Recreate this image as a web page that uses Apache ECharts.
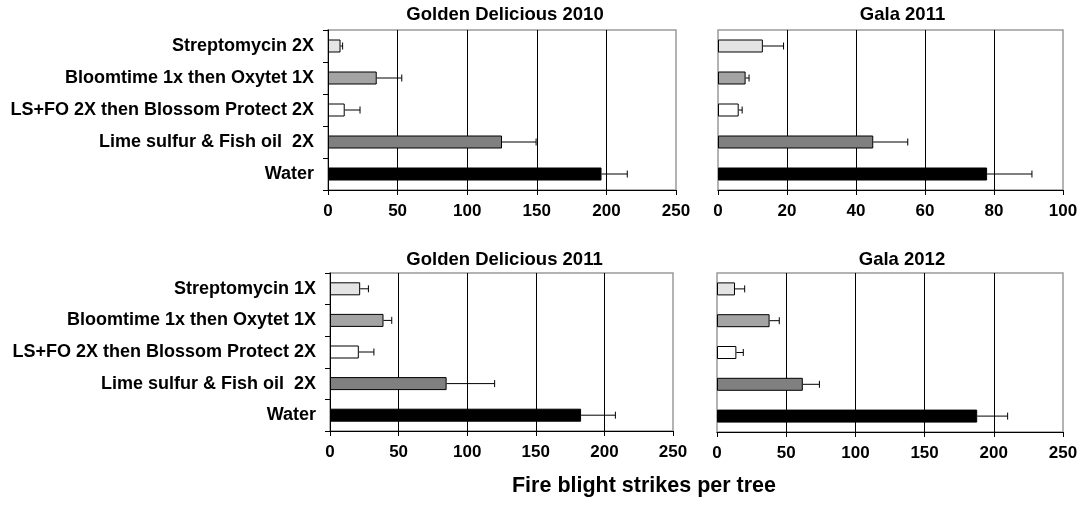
<!DOCTYPE html>
<html>
<head>
<meta charset="utf-8">
<script src="https://cdn.jsdelivr.net/npm/echarts@6/dist/echarts.min.js"></script>
<style>
  html, body { margin: 0; padding: 0; background: #fff; }
  #chart { width: 1081px; height: 529px; }
</style>
</head>
<body>
<div id="chart"></div>
<script>
// Treatments, top to bottom
const treatmentsTop = ['Streptomycin 2X', 'Bloomtime 1x then Oxytet 1X', 'LS+FO 2X then Blossom Protect 2X', 'Lime sulfur & Fish oil  2X', 'Water'];
const treatmentsBottom = ['Streptomycin 1X', 'Bloomtime 1x then Oxytet 1X', 'LS+FO 2X then Blossom Protect 2X', 'Lime sulfur & Fish oil  2X', 'Water'];

const panelTitles = ['Golden Delicious 2010', 'Gala 2011', 'Golden Delicious 2011', 'Gala 2012'];

// Mean strikes per tree and standard error per treatment
const goldenDelicious2010 = [9, 35, 12, 125, 196.5];
const goldenDelicious2010Err = [1.5, 18, 11, 24.5, 18.5];
const gala2011 = [13, 8, 6, 45, 78];
const gala2011Err = [6, 1, 1, 10, 13];
const goldenDelicious2011 = [22, 39, 21, 85, 183];
const goldenDelicious2011Err = [6, 6, 11, 35, 25];
const gala2012 = [13, 38, 14, 62, 188];
const gala2012Err = [7, 7, 5, 12, 22];

// x-axis scales
const axisMax = [250, 100, 250, 250];
const axisStep = [50, 20, 50, 50];

const xAxisTitle = 'Fire blight strikes per tree';

const barFills = ['#e4e4e4', '#a4a4a4', '#ffffff', '#808080', '#000000'];

const panels = [
  { cats: treatmentsTop, vals: goldenDelicious2010, errs: goldenDelicious2010Err, grid: { left: 328, top: 30, width: 348, height: 160 }, labels: true, titleTop: 0, titleShift: -2 },
  { cats: treatmentsTop, vals: gala2011, errs: gala2011Err, grid: { left: 718, top: 30, width: 345, height: 160 }, labels: false, titleTop: 0, titleShift: 7 },
  { cats: treatmentsBottom, vals: goldenDelicious2011, errs: goldenDelicious2011Err, grid: { left: 330, top: 273, width: 343, height: 158 }, labels: true, titleTop: 245, titleShift: -2 },
  { cats: treatmentsBottom, vals: gala2012, errs: gala2012Err, grid: { left: 717, top: 273, width: 346, height: 159 }, labels: false, titleTop: 245, titleShift: 7 }
];

const font = 'Liberation Sans, Arial, sans-serif';

const grids = [], xAxes = [], yAxes = [], series = [], titles = [];

panels.forEach((p, i) => {
  grids.push(Object.assign({ show: true, borderColor: '#9a9a9a', borderWidth: 1.5, backgroundColor: '#fff' }, p.grid));
  xAxes.push({
    type: 'value', gridIndex: i, min: 0, max: axisMax[i], interval: axisStep[i],
    axisLine: { show: true, lineStyle: { color: '#000', width: 1 } },
    axisTick: { show: true, length: 5, lineStyle: { color: '#000' } },
    axisLabel: { color: '#000', fontFamily: font, fontWeight: 'bold', fontSize: 17, margin: 13 },
    splitLine: { show: true, showMinLine: false, showMaxLine: false, lineStyle: { color: '#000', width: 1 } }
  });
  yAxes.push({
    type: 'category', gridIndex: i, data: p.cats, inverse: true,
    axisLine: { show: p.labels, lineStyle: { color: '#000', width: 1 } },
    axisTick: { show: p.labels, length: 5, lineStyle: { color: '#000' } },
    axisLabel: { show: p.labels, color: '#000', fontFamily: font, fontWeight: 'bold', fontSize: 18, margin: 14 }
  });
  series.push({
    type: 'bar', xAxisIndex: i, yAxisIndex: i, barWidth: 13,
    data: p.vals,
    itemStyle: { color: (params) => barFills[params.dataIndex], borderColor: '#000', borderWidth: 1 },
    z: 3
  });
  series.push({
    type: 'custom', xAxisIndex: i, yAxisIndex: i, z: 4,
    data: p.vals.map((v, k) => [v, k, p.errs[k]]),
    encode: { x: 0, y: 1 },
    renderItem: (params, api) => {
      const v = api.value(0), c = api.value(1), e = api.value(2);
      const a = api.coord([v, c]);
      const b = api.coord([v + e, c]);
      const st = { stroke: '#000', lineWidth: 1 };
      return {
        type: 'group',
        children: [
          { type: 'line', shape: { x1: a[0], y1: a[1], x2: b[0], y2: b[1] }, style: st },
          { type: 'line', shape: { x1: b[0], y1: b[1] - 3.5, x2: b[0], y2: b[1] + 3.5 }, style: st }
        ]
      };
    }
  });
  titles.push({
    text: panelTitles[i],
    left: p.grid.left + p.grid.width / 2 + p.titleShift,
    top: p.titleTop,
    textAlign: 'center',
    textStyle: { fontFamily: font, fontWeight: 'bold', fontSize: 18.5, color: '#000' }
  });
});

titles.push({
  text: xAxisTitle, left: 639, top: 470, textAlign: 'center',
  textStyle: { fontFamily: font, fontWeight: 'bold', fontSize: 21.5, color: '#000' }
});

const chart = echarts.init(document.getElementById('chart'), null, { renderer: 'canvas' });
chart.setOption({
  animation: false,
  backgroundColor: '#fff',
  title: titles,
  grid: grids,
  xAxis: xAxes,
  yAxis: yAxes,
  series: series
});
</script>
</body>
</html>
